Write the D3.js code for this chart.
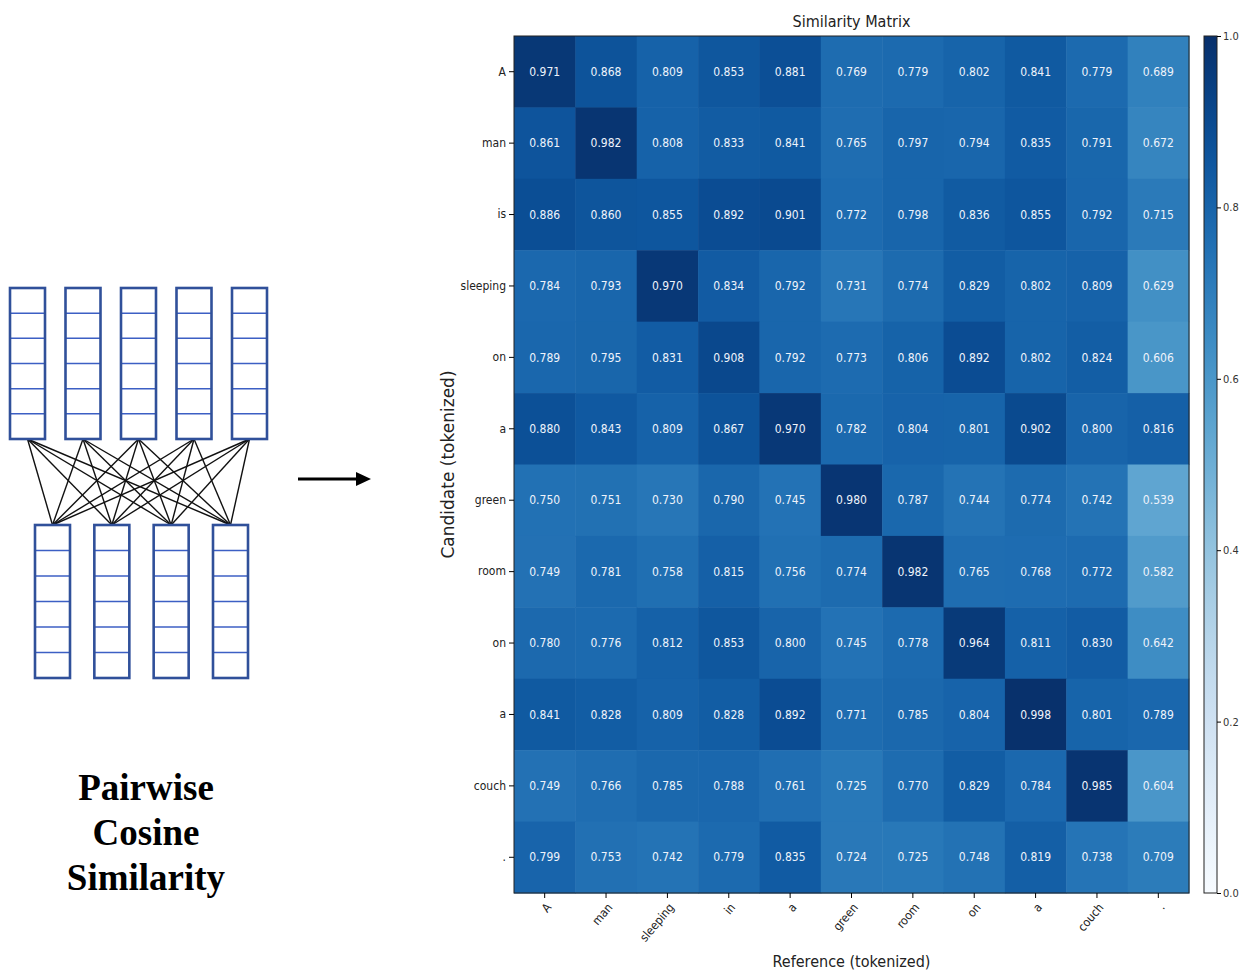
<!DOCTYPE html>
<html>
<head>
<meta charset="utf-8">
<script src="https://cdn.jsdelivr.net/npm/d3@7"></script>
<style>
  body { margin: 0; background: #fff; }
  svg text { font-family: "DejaVu Sans Condensed", "DejaVu Sans", sans-serif; }
</style>
</head>
<body>
<div id="chart"></div>
<script>
// tokens on each axis
var referenceTokens = ["A", "man", "sleeping", "in", "a", "green", "room", "on", "a", "couch", "."];
var candidateTokens = ["A", "man", "is", "sleeping", "on", "a", "green", "room", "on", "a", "couch", "."];

// one row per candidate token
var rowA        = [0.971, 0.868, 0.809, 0.853, 0.881, 0.769, 0.779, 0.802, 0.841, 0.779, 0.689];
var rowMan      = [0.861, 0.982, 0.808, 0.833, 0.841, 0.765, 0.797, 0.794, 0.835, 0.791, 0.672];
var rowIs       = [0.886, 0.860, 0.855, 0.892, 0.901, 0.772, 0.798, 0.836, 0.855, 0.792, 0.715];
var rowSleeping = [0.784, 0.793, 0.970, 0.834, 0.792, 0.731, 0.774, 0.829, 0.802, 0.809, 0.629];
var rowOn1      = [0.789, 0.795, 0.831, 0.908, 0.792, 0.773, 0.806, 0.892, 0.802, 0.824, 0.606];
var rowA1       = [0.880, 0.843, 0.809, 0.867, 0.970, 0.782, 0.804, 0.801, 0.902, 0.800, 0.816];
var rowGreen    = [0.750, 0.751, 0.730, 0.790, 0.745, 0.980, 0.787, 0.744, 0.774, 0.742, 0.539];
var rowRoom     = [0.749, 0.781, 0.758, 0.815, 0.756, 0.774, 0.982, 0.765, 0.768, 0.772, 0.582];
var rowOn2      = [0.780, 0.776, 0.812, 0.853, 0.800, 0.745, 0.778, 0.964, 0.811, 0.830, 0.642];
var rowA2       = [0.841, 0.828, 0.809, 0.828, 0.892, 0.771, 0.785, 0.804, 0.998, 0.801, 0.789];
var rowCouch    = [0.749, 0.766, 0.785, 0.788, 0.761, 0.725, 0.770, 0.829, 0.784, 0.985, 0.604];
var rowDot      = [0.799, 0.753, 0.742, 0.779, 0.835, 0.724, 0.725, 0.748, 0.819, 0.738, 0.709];
var matrixRows = [rowA, rowMan, rowIs, rowSleeping, rowOn1, rowA1, rowGreen, rowRoom, rowOn2, rowA2, rowCouch, rowDot];

var colorbarTicks = [0, 0.2, 0.4, 0.6, 0.8, 1.0];

var width = 1243;
var height = 971;

var svg = d3.select("#chart").append("svg")
    .attr("width", width)
    .attr("height", height);

//---------------- left: the pairwise diagram ----------------
var diagram = svg.append("g");
var topCount = 5, bottomCount = 4, cellCount = 6;
var boxW = 35;
var topX = d3.scalePoint().domain(d3.range(topCount)).range([10, 232]);
var botX = d3.scalePoint().domain(d3.range(bottomCount)).range([35, 213]);
var topY0 = 288, topY1 = 439;
var botY0 = 525, botY1 = 678;

// connecting lines go first, boxes draw over them
for (var i = 0; i < topCount; i++) {
    for (var j = 0; j < bottomCount; j++) {
        diagram.append("line")
            .attr("x1", topX(i) + boxW / 2).attr("y1", topY1)
            .attr("x2", botX(j) + boxW / 2).attr("y2", botY0)
            .style("stroke", "#111")
            .style("stroke-width", 1.4);
    }
}

function drawBox(x, y0, y1) {
    var cellH = (y1 - y0) / cellCount;
    for (var k = 1; k < cellCount; k++) {
        diagram.append("line")
            .attr("x1", x).attr("x2", x + boxW)
            .attr("y1", y0 + k * cellH).attr("y2", y0 + k * cellH)
            .style("stroke", "#3c5fc4")
            .style("stroke-width", 1.5);
    }
    diagram.append("rect")
        .attr("x", x).attr("y", y0)
        .attr("width", boxW).attr("height", y1 - y0)
        .style("fill", "none")
        .style("stroke", "#30509a")
        .style("stroke-width", 2.6);
}
d3.range(topCount).forEach(function(i) { drawBox(topX(i), topY0, topY1); });
d3.range(bottomCount).forEach(function(j) { drawBox(botX(j), botY0, botY1); });

// arrow
svg.append("line")
    .attr("x1", 298).attr("x2", 358)
    .attr("y1", 479).attr("y2", 479)
    .style("stroke", "#000")
    .style("stroke-width", 3);
svg.append("path")
    .attr("d", "M356,472 L371,479 L356,486 Z")
    .style("fill", "#000");

// caption
var caption = svg.append("text")
    .attr("x", 146)
    .attr("text-anchor", "middle")
    .style("font-family", "'Liberation Serif', 'Times New Roman', serif")
    .style("font-weight", "bold")
    .style("font-size", "37px");
["Pairwise", "Cosine", "Similarity"].forEach(function(t, i) {
    caption.append("tspan")
        .attr("x", 146)
        .attr("y", 800 + i * 45)
        .text(t);
});

//---------------- right: the similarity heatmap ----------------
var plot = { left: 514, right: 1189, top: 36, bottom: 893 };

var x = d3.scaleBand()
    .domain(d3.range(referenceTokens.length))
    .range([plot.left, plot.right]);
var y = d3.scaleBand()
    .domain(d3.range(candidateTokens.length))
    .range([plot.top, plot.bottom]);
var color = d3.scaleSequential(d3.interpolateBlues).domain([0, 1]);

var cells = [];
matrixRows.forEach(function(row, r) {
    row.forEach(function(v, c) {
        cells.push({ r: r, c: c, v: v });
    });
});

svg.append("g").selectAll("rect")
    .data(cells)
    .enter()
    .append("rect")
    .attr("x", function(d) { return x(d.c); })
    .attr("y", function(d) { return y(d.r); })
    .attr("width", x.bandwidth() + 0.5)
    .attr("height", y.bandwidth() + 0.5)
    .style("fill", function(d) { return color(d.v); });

svg.append("g").selectAll("text")
    .data(cells)
    .enter()
    .append("text")
    .attr("x", function(d) { return x(d.c) + x.bandwidth() / 2; })
    .attr("y", function(d) { return y(d.r) + y.bandwidth() / 2; })
    .attr("dy", "0.35em")
    .attr("text-anchor", "middle")
    .style("font-size", "12px")
    .style("fill", "#eef3fb")
    .text(function(d) { return d3.format(".3f")(d.v); });

svg.append("rect")
    .attr("x", plot.left).attr("y", plot.top)
    .attr("width", plot.right - plot.left)
    .attr("height", plot.bottom - plot.top)
    .style("fill", "none")
    .style("stroke", "#222")
    .style("stroke-width", 1);

// axes
var yAxis = svg.append("g")
    .attr("transform", "translate(" + plot.left + ",0)")
    .call(d3.axisLeft(y).tickSize(5).tickPadding(3)
        .tickFormat(function(i) { return candidateTokens[i]; }));
yAxis.select(".domain").remove();
yAxis.selectAll("text").style("font-size", "12px").style("fill", "#222");

var xAxis = svg.append("g")
    .attr("transform", "translate(0," + plot.bottom + ")")
    .call(d3.axisBottom(x).tickSize(5).tickPadding(3)
        .tickFormat(function(i) { return referenceTokens[i]; }));
xAxis.select(".domain").remove();
// matplotlib style rotated labels, right end at the tick
xAxis.selectAll(".tick text")
    .style("font-size", "12px")
    .style("fill", "#222")
    .attr("text-anchor", "end")
    .attr("x", 0)
    .attr("y", 0)
    .attr("dy", "0.35em")
    .attr("transform", "translate(4,12) rotate(-50)");

svg.append("text")
    .attr("x", (plot.left + plot.right) / 2)
    .attr("y", 27)
    .attr("text-anchor", "middle")
    .style("font-size", "16px")
    .style("fill", "#222")
    .text("Similarity Matrix");

svg.append("text")
    .attr("x", (plot.left + plot.right) / 2)
    .attr("y", 967)
    .attr("text-anchor", "middle")
    .style("font-size", "16px")
    .style("fill", "#222")
    .text("Reference (tokenized)");

svg.append("text")
    .attr("transform", "translate(454," + (plot.top + plot.bottom) / 2 + ") rotate(-90)")
    .attr("text-anchor", "middle")
    .style("font-family", "'DejaVu Sans', sans-serif")
    .style("font-size", "17px")
    .style("fill", "#222")
    .text("Candidate (tokenized)");

//---------------- colorbar ----------------
var cb = { x: 1204, w: 13 };
var cbScale = d3.scaleLinear().domain([0, 1]).range([plot.bottom, plot.top]);

var grad = svg.append("defs").append("linearGradient")
    .attr("id", "cbgrad")
    .attr("x1", 0).attr("y1", 1).attr("x2", 0).attr("y2", 0);
grad.selectAll("stop")
    .data(d3.range(0, 1.0001, 0.05))
    .enter()
    .append("stop")
    .attr("offset", function(d) { return d; })
    .attr("stop-color", function(d) { return color(d); });

svg.append("rect")
    .attr("x", cb.x).attr("y", plot.top)
    .attr("width", cb.w).attr("height", plot.bottom - plot.top)
    .style("fill", "url(#cbgrad)")
    .style("stroke", "#222")
    .style("stroke-width", 1);

var cbAxis = svg.append("g")
    .attr("transform", "translate(" + (cb.x + cb.w) + ",0)")
    .call(d3.axisRight(cbScale).tickValues(colorbarTicks).tickSize(4).tickPadding(2)
        .tickFormat(d3.format(".1f")));
cbAxis.select(".domain").remove();
cbAxis.selectAll("text").style("font-size", "11px").style("fill", "#333");
</script>
</body>
</html>
